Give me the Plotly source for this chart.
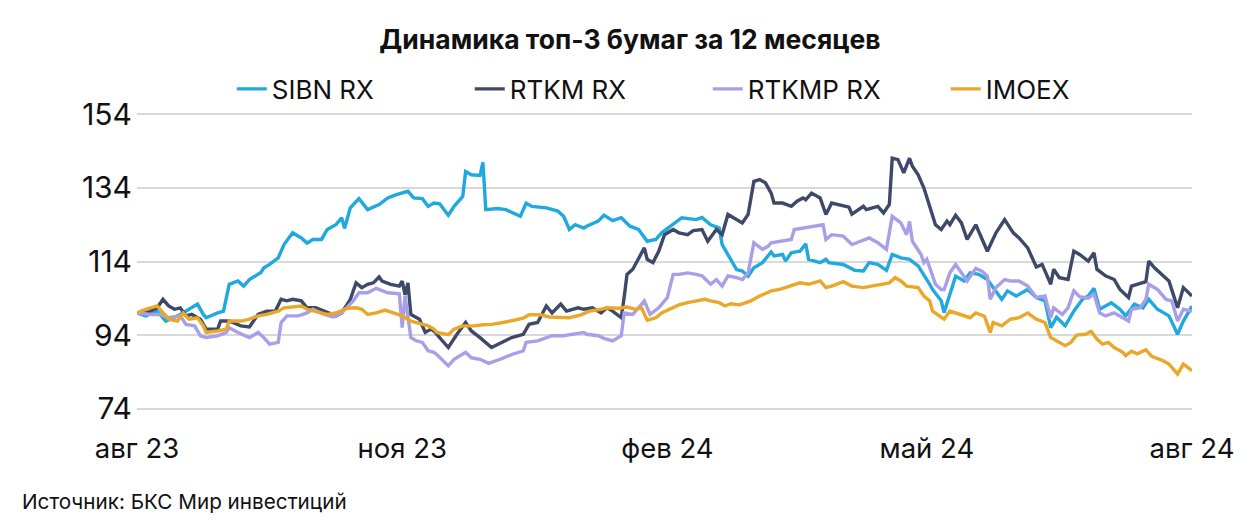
import plotly.graph_objects as go
import pandas as pd

START = pd.Timestamp("2023-08-01")

# days since 01.08.2023 / value (normalized to 100)
SIBN_DAYS = [0, 3, 7, 10, 15, 18, 21, 23, 24, 28, 30, 32, 35, 37, 39, 43, 44, 46, 49, 51, 54, 57, 59, 61, 64, 66, 69, 71, 72, 74, 77, 80, 84, 87, 90, 94, 96, 99, 101, 103, 105, 108, 110, 113, 114, 116, 119, 120, 121, 125, 128, 133, 135, 137, 142, 146, 148, 150, 152, 155, 156, 160, 162, 165, 168, 171, 174, 177, 180, 182, 186, 189, 194, 196, 199, 202, 203, 206, 208, 210, 212, 214, 217, 220, 221, 224, 225, 227, 230, 232, 233, 237, 239, 240, 245, 249, 252, 254, 257, 260, 262, 265, 268, 271, 273, 275, 276, 279, 280, 282, 284, 287, 289, 292, 295, 297, 300, 302, 305, 309, 312, 315, 317, 319, 322, 325, 328, 330, 332, 334, 338, 341, 343, 346, 349, 351, 354, 358, 361, 363, 366]
SIBN = [100, 99.2, 100.5, 97.8, 99.6, 101, 102.4, 99.6, 98.7, 100, 100.5, 107.8, 108.7, 107.3, 109.1, 111, 112.3, 113.2, 115, 118.6, 121.8, 120.4, 119, 120, 120, 122.7, 124, 125.9, 123, 128.6, 131.1, 128.1, 129.5, 131.3, 132.2, 133.1, 131.3, 131.1, 129, 129.9, 129.7, 126.6, 129, 131.7, 138.5, 137.6, 137.4, 141, 128.1, 128.4, 128.1, 126.3, 129.9, 129, 128.6, 127.7, 126.3, 122.7, 124, 123.1, 123.6, 125, 126.6, 125.1, 125.9, 123.6, 122.7, 119.5, 120, 121.8, 124, 125.9, 125.4, 126, 124, 123.1, 118.6, 114.6, 111.8, 111.4, 110, 112.3, 113.7, 116.6, 115.5, 115.9, 114.1, 116.4, 116.8, 118.8, 114.6, 113.7, 114.6, 113.7, 113.2, 111.6, 111.4, 113.7, 113.2, 111.6, 115.9, 115, 114.6, 112.8, 110.5, 107.8, 106.4, 103.3, 100.1, 105.1, 110, 108.7, 110.9, 110.5, 109.1, 106.9, 103.7, 106, 104.6, 106.4, 104.2, 103.3, 96, 98.8, 96.5, 100.5, 103.7, 104.6, 106.7, 101, 102.8, 101, 99.2, 102.4, 101.4, 103.7, 101, 99.2, 94.2, 97.8, 101.9]

RTKM_DAYS = [0, 3, 7, 9, 11, 13, 15, 17, 19, 22, 24, 28, 29, 32, 36, 39, 42, 45, 48, 50, 52, 54, 57, 59, 62, 66, 69, 71, 74, 76, 78, 80, 82, 84, 85, 88, 91, 92, 93, 94, 95, 98, 100, 102, 103, 105, 108, 111, 114, 116, 119, 123, 127, 130, 134, 136, 139, 142, 144, 147, 149, 153, 155, 158, 161, 163, 165, 168, 169, 170, 172, 174, 176, 177, 179, 181, 183, 186, 188, 191, 193, 196, 198, 201, 203, 205, 207, 210, 212, 214, 216, 218, 220, 221, 224, 227, 229, 231, 232, 234, 237, 239, 241, 244, 247, 248, 252, 253, 257, 259, 261, 262, 264, 266, 268, 269, 271, 273, 275, 277, 279, 281, 282, 284, 286, 288, 291, 293, 295, 298, 301, 304, 306, 309, 312, 314, 317, 318, 320, 323, 325, 327, 330, 332, 333, 336, 339, 341, 344, 345, 347, 350, 351, 353, 356, 358, 361, 363, 366]
RTKM = [100, 100, 101.4, 103.7, 101.9, 101, 101.4, 99.2, 99.6, 98.3, 95.6, 95.6, 97.8, 97.8, 96.5, 96.2, 99.6, 100.5, 100.5, 103.7, 103.3, 103.7, 103.3, 101.4, 101.4, 100, 99.2, 100, 103.7, 108.2, 106.9, 107.8, 108.2, 109.8, 108.7, 107.8, 107.3, 108.7, 104.9, 108.2, 99.6, 98.3, 94.7, 95.6, 95.1, 93.3, 90.6, 94.2, 97.4, 95.1, 93.3, 90.6, 92, 93.3, 94.2, 96.9, 97.4, 101.9, 100, 102.4, 100.5, 101.4, 101, 101.4, 100, 101.4, 100.5, 98.7, 104.2, 110.5, 111.9, 115, 117.7, 114.6, 113.7, 116.8, 121.3, 122.7, 121.8, 121.3, 122.4, 122.7, 119.5, 122.7, 121.3, 126.8, 125.9, 124.5, 126.8, 135.8, 136.3, 135.4, 132.6, 129.9, 129.9, 129, 130.4, 131.3, 130.8, 132.6, 131.3, 126.8, 129.9, 129.3, 128.8, 126.9, 129, 128.1, 129, 127.2, 129.5, 142.1, 141.7, 138.1, 142.1, 139.9, 137.6, 134, 128.6, 124, 122.7, 125, 124, 126.6, 124.5, 120, 124, 120.4, 116.8, 121.8, 125.4, 121.8, 120.4, 117.7, 112.5, 113.2, 107.8, 111.9, 109.6, 109.1, 116.8, 115.9, 114.1, 116.4, 111.9, 110.1, 109.1, 106.4, 104.2, 107.3, 107.8, 108.5, 114.1, 112.3, 110.1, 108.7, 101.4, 106.9, 104.6]

RTKMP_DAYS = [0, 5, 8, 11, 15, 17, 20, 22, 24, 28, 31, 32, 35, 39, 42, 44, 46, 49, 50, 52, 56, 59, 61, 65, 68, 71, 75, 77, 80, 83, 87, 91, 92, 93, 95, 97, 99, 101, 103, 104, 108, 110, 114, 116, 119, 122, 126, 130, 134, 135, 139, 142, 144, 148, 151, 155, 156, 160, 162, 165, 168, 169, 172, 174, 176, 178, 181, 184, 186, 188, 191, 194, 196, 199, 201, 203, 205, 208, 210, 212, 214, 217, 219, 220, 223, 227, 228, 232, 234, 238, 239, 241, 245, 248, 251, 254, 257, 260, 262, 265, 267, 268, 269, 272, 273, 274, 277, 279, 280, 282, 284, 286, 288, 291, 293, 295, 296, 298, 301, 303, 306, 309, 312, 315, 317, 318, 321, 323, 325, 327, 330, 332, 334, 336, 339, 342, 344, 345, 348, 350, 351, 354, 357, 359, 361, 363, 366]
RTKMP = [100, 99.6, 99.6, 98.7, 99.2, 96.9, 96.5, 93.8, 93.3, 93.8, 94.7, 96, 94.7, 93.3, 94.7, 93.3, 91.5, 92, 97.4, 99.2, 99.2, 100, 101, 99.6, 98.9, 100, 103.3, 105.5, 105.5, 106.7, 105.5, 105.2, 96, 104.6, 93.3, 92.4, 92, 89.7, 89.3, 88.7, 85.6, 87.4, 89.3, 87.8, 87.4, 86.3, 87.4, 88.7, 89.7, 92, 92.4, 93.3, 93.8, 93.8, 94.2, 94.7, 94.2, 93.8, 93.1, 92.4, 93.8, 100, 99.6, 101.4, 103.3, 99.6, 101.4, 104.2, 110.5, 110.5, 110.9, 110.5, 110.1, 107.8, 109.1, 107.3, 110.1, 109.6, 109.1, 110.9, 119.1, 117.3, 118.2, 119.1, 119.5, 120, 122.7, 123.3, 123.6, 124, 120, 121.3, 120.9, 118.6, 119.5, 120.4, 119.1, 117.3, 126.3, 124.5, 121.3, 124.9, 119.5, 115.9, 113.7, 114.6, 107.8, 106.4, 106.4, 110.9, 113.2, 110.9, 108.7, 112.1, 111.4, 110, 103.7, 106.9, 109.1, 108.7, 108.7, 107.3, 104.2, 104.6, 98.7, 101.4, 99.6, 101.4, 106, 104.4, 104, 105.1, 100, 99.2, 100, 98.7, 97.8, 101, 101.4, 103.7, 107.8, 106.4, 103.7, 103.3, 97.8, 101, 100.5]

IMOEX_DAYS = [0, 3, 7, 9, 11, 14, 16, 18, 21, 23, 24, 28, 31, 32, 36, 39, 42, 45, 49, 51, 53, 57, 59, 62, 66, 69, 73, 76, 78, 80, 83, 86, 90, 92, 95, 97, 101, 103, 104, 108, 110, 113, 117, 120, 123, 127, 130, 134, 136, 140, 143, 147, 150, 154, 157, 161, 163, 167, 170, 173, 175, 177, 180, 182, 185, 188, 191, 194, 197, 199, 202, 204, 206, 209, 213, 216, 220, 223, 227, 230, 233, 237, 239, 241, 245, 248, 252, 255, 258, 261, 263, 265, 267, 271, 273, 275, 276, 279, 280, 282, 284, 287, 289, 291, 294, 296, 297, 300, 303, 306, 309, 312, 315, 317, 318, 322, 324, 326, 329, 331, 333, 335, 337, 339, 342, 343, 345, 347, 350, 352, 356, 358, 361, 363, 366]
IMOEX = [100, 101, 101.9, 100, 98.3, 97.8, 100, 98.3, 98.7, 96.5, 94.7, 95.1, 95.6, 97.8, 97.8, 98.3, 99.2, 99.6, 100.5, 101.4, 101.6, 101.9, 101, 100.5, 99.6, 100, 101.3, 101.4, 101, 99.6, 100, 100.8, 99.6, 99.2, 97.8, 97.4, 96.5, 95.6, 94.7, 94.1, 95.6, 96.5, 96.5, 96.8, 96.9, 97.4, 98, 98.6, 99.5, 99.5, 98.9, 98.9, 98.7, 99.5, 100.5, 101, 101.4, 101.3, 101.6, 101, 101.4, 98, 98.7, 100, 101, 102.2, 102.8, 103.3, 103.7, 103.3, 102.8, 101.9, 102.5, 102.2, 103.3, 104.6, 106, 106.4, 107.3, 108.2, 107.8, 108.7, 106.9, 107.3, 108.5, 107.3, 106.9, 107.3, 107.8, 108.2, 109.6, 108.7, 107.3, 106.9, 104.6, 103.3, 100.5, 98.7, 98.3, 100.5, 100, 99.1, 98.7, 100, 99.1, 94.7, 97.4, 96.5, 98.3, 98.7, 100, 98.3, 97.4, 93.3, 92.9, 91.1, 92, 94, 94.2, 95, 92.9, 91.5, 92, 90.6, 89.3, 88.4, 89.6, 88.9, 90, 88.2, 87, 86.1, 83.4, 86.1, 84.3]

TICK_DATES = ["2023-08-01", "2023-11-01", "2024-02-01", "2024-05-01", "2024-08-01"]
TICK_TEXT = ["авг 23", "ноя 23", "фев 24", "май 24", "авг 24"]
Y_TICKS = [74, 94, 114, 134, 154]

SERIES = [
    ("SIBN RX", SIBN_DAYS, SIBN, "#1FA9DF"),
    ("RTKM RX", RTKM_DAYS, RTKM, "#3E4868"),
    ("RTKMP RX", RTKMP_DAYS, RTKMP, "#A99EE8"),
    ("IMOEX", IMOEX_DAYS, IMOEX, "#E9A82A"),
]

FONT = "Inter, Roboto, sans-serif"

fig = go.Figure()
for name, days, vals, color in SERIES:
    x = START + pd.to_timedelta(days, unit="D")
    fig.add_trace(go.Scatter(
        x=x, y=vals, mode="lines", name=name,
        line=dict(color=color, width=3.4),
    ))

fig.update_layout(
    title=dict(
        text="<b>Динамика топ-3 бумаг за 12 месяцев</b>",
        x=0.5, xanchor="center", y=1 - 40 / 528, yanchor="middle",
        font=dict(size=26.5, color="#111111", family=FONT),
    ),
    legend=dict(
        orientation="h", x=0.541, xanchor="center", y=1.081, yanchor="middle",
        font=dict(size=26, color="#111111", family=FONT),
        entrywidth=193, entrywidthmode="pixels",
    ),
    xaxis=dict(
        range=[TICK_DATES[0], TICK_DATES[-1]],
        tickvals=TICK_DATES, ticktext=TICK_TEXT,
        showgrid=False, zeroline=False, showline=False,
        ticks="", ticklabelstandoff=19,
        tickfont=dict(size=27.5, color="#111111", family=FONT),
    ),
    yaxis=dict(
        # padded a hair so the 74 and 154 grid lines are kept
        range=[73.6, 154.4], tickvals=Y_TICKS,
        showgrid=True, gridcolor="#D9D9D9", gridwidth=2,
        zeroline=False, showline=False, ticks="",
        ticklabelstandoff=4,
        tickfont=dict(size=30, color="#111111", family=FONT),
    ),
    annotations=[dict(
        text="Источник: БКС Мир инвестиций",
        xref="paper", yref="paper", x=-0.111, y=-0.308,
        xanchor="left", yanchor="middle", showarrow=False,
        font=dict(size=20.7, color="#111111", family=FONT),
    )],
    paper_bgcolor="white",
    plot_bgcolor="white",
    width=1260, height=528,
    margin=dict(l=137, r=68, t=112.5, b=117.5),
    showlegend=True,
)

fig.write_html(
    "out.html",
    config={"displayModeBar": False},
    post_script="document.body.style.margin='0';",
)
